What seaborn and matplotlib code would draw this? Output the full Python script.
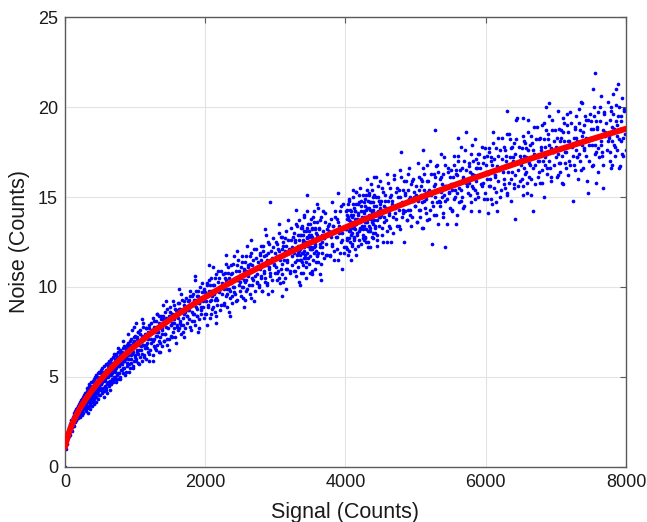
import numpy as np
import pandas as pd
from matplotlib import pyplot as plt
import seaborn as sns

# scatter points (signal, noise)
signal = [
    0, 5, 8, 12, 15, 20, 22, 28, 30, 35, 38, 42, 45, 50, 55, 58, 62, 65, 70, 72, 78, 80, 85, 88, 92, 95, 98,
    102, 105, 110, 112, 118, 120, 125, 128, 130, 135, 138, 140, 145, 148, 150, 155, 158, 160, 165, 168, 170, 175, 178, 180, 185, 188, 190, 195, 198,
    202, 205, 210, 212, 215, 220, 222, 228, 230, 235, 238, 240, 245, 248, 250, 255, 258, 260, 265, 268, 270, 275, 278, 280, 285, 288, 290, 295, 298, 300,
    302, 305, 308, 312, 315, 318, 322, 325, 328, 332, 335, 338, 342, 345, 348, 352, 355, 358, 362, 365, 368, 372, 375, 378, 382, 385, 388, 392, 395, 398,
    402, 405, 408, 412, 415, 418, 422, 425, 428, 432, 435, 438, 442, 445, 448, 452, 455, 458, 462, 465, 468, 472, 475, 478, 482, 485, 488, 492, 495, 498,
    502, 506, 510, 514, 518, 522, 526, 530, 534, 538, 542, 546, 550, 554, 558, 562, 566, 570, 574, 578, 582, 586, 590, 594, 598,
    602, 606, 610, 614, 618, 622, 626, 630, 634, 638, 642, 646, 650, 654, 658, 662, 666, 670, 674, 678, 682, 686, 690, 694, 698,
    702, 706, 710, 714, 718, 722, 726, 730, 734, 738, 742, 746, 750, 754, 758, 762, 766, 770, 774, 778, 782, 786, 790, 794, 798,
    804, 808, 814, 818, 824, 828, 834, 838, 844, 848, 854, 858, 864, 868, 874, 878, 884, 888, 894, 898,
    904, 908, 914, 918, 924, 928, 934, 938, 944, 948, 954, 958, 964, 968, 974, 978, 984, 988, 994, 998, 990, 1010,
    1005, 1012, 1020, 1028, 1035, 1042, 1050, 1058, 1065, 1072, 1080, 1088, 1095, 1102, 1110, 1118, 1125, 1132, 1140, 1148, 1155, 1162, 1170, 1178, 1185, 1192, 1198,
    1205, 1214, 1222, 1230, 1240, 1248, 1258, 1266, 1275, 1284, 1292, 1300, 1310, 1318, 1326, 1335, 1344, 1352, 1360, 1370, 1378, 1388, 1396,
    1405, 1414, 1424, 1432, 1442, 1450, 1460, 1468, 1478, 1486, 1496, 1505, 1514, 1524, 1532, 1542, 1550, 1560, 1570, 1580, 1590,
    1605, 1615, 1626, 1636, 1646, 1655, 1666, 1676, 1686, 1695, 1706, 1716, 1726, 1736, 1746, 1756, 1766, 1776, 1788,
    1805, 1815, 1826, 1836, 1846, 1856, 1866, 1876, 1886, 1896, 1906, 1916, 1926, 1936, 1946, 1956, 1966, 1976, 1988,
    2005, 2015, 2028, 2040, 2052, 2064, 2076, 2088, 2100, 2112, 2124, 2136, 2148, 2160, 2172, 2184, 2196, 2208, 2220, 2232, 2244,
    2255, 2266, 2278, 2290, 2302, 2314, 2326, 2338, 2350, 2362, 2374, 2386, 2398, 2410, 2422, 2434, 2446, 2458, 2470, 2482, 2494,
    2505, 2516, 2528, 2540, 2552, 2564, 2576, 2588, 2600, 2612, 2624, 2636, 2648, 2660, 2672, 2684, 2696, 2708, 2720, 2732, 2744,
    2755, 2766, 2778, 2790, 2802, 2814, 2826, 2838, 2850, 2862, 2874, 2886, 2898, 2910, 2922, 2924, 2934, 2946, 2958, 2970, 2982, 2994,
    3005, 3016, 3028, 3040, 3052, 3064, 3076, 3088, 3100, 3112, 3124, 3136, 3148, 3160, 3172, 3184, 3196, 3208, 3220, 3232, 3244, 3100,
    3255, 3262, 3270, 3278, 3286, 3294, 3302, 3310, 3318, 3326, 3334, 3342, 3350, 3358, 3366, 3374, 3382, 3390, 3398, 3406,
    3414, 3422, 3430, 3438, 3446, 3450, 3454, 3462, 3470, 3478, 3486, 3494, 3502, 3510, 3518, 3526, 3534, 3542, 3550, 3558,
    3566, 3574, 3582, 3590, 3598, 3606, 3614, 3622, 3630, 3640, 3650, 3660, 3670, 3680, 3690, 3700, 3712, 3724, 3736, 3748,
    3760, 3775, 3790, 3805, 3820, 3835, 3850, 3865, 3880, 3895, 3910, 3925, 3940, 3955, 3970, 3985,
    4005, 4012, 4020, 4028, 4036, 4044, 4052, 4060, 4068, 4076, 4084, 4092, 4100, 4108, 4116, 4124, 4132, 4140, 4148, 4156,
    4164, 4172, 4180, 4188, 4196, 4204, 4212, 4220, 4228, 4236, 4244, 4252, 4260, 4268, 4276, 4284, 4292, 4300, 4308, 4316,
    4324, 4332, 4340, 4348, 4356, 4364, 4372, 4380, 4388, 4396, 4404, 4412, 4420, 4428, 4436, 4444, 4452, 4460, 4468, 4476,
    4484, 4492, 4498,
    4510, 4525, 4540, 4555, 4570, 4585, 4600, 4615, 4630, 4645, 4660, 4675, 4690, 4705, 4720, 4735, 4750, 4765, 4780, 4793,
    4810, 4825, 4840, 4855, 4870, 4885, 4900, 4915, 4930, 4945, 4960, 4975, 4990,
    5008, 5025, 5042, 5058, 5075, 5092, 5108, 5125, 5142, 5158, 5175, 5192, 5208, 5225, 5235, 5242, 5258, 5275, 5280, 5292,
    5308, 5325, 5342, 5358, 5375, 5392, 5408, 5420, 5425, 5442, 5458, 5475, 5492,
    5508, 5525, 5542, 5558, 5575, 5592, 5608, 5625, 5642, 5658, 5675, 5692, 5708, 5720, 5725, 5742, 5758, 5775, 5792, 5808,
    5825, 5842, 5858, 5875, 5892, 5908, 5925, 5942, 5958, 5975, 5992,
    6010, 6025, 6042, 6058, 6075, 6092, 6108, 6125, 6142, 6163, 6175, 6192, 6208, 6225, 6242, 6258, 6275, 6292, 6308, 6325,
    6342, 6358, 6375, 6392, 6408, 6419, 6432, 6448, 6465, 6482,
    6508, 6533, 6525, 6542, 6558, 6575, 6592, 6608, 6625, 6642, 6658, 6676, 6692, 6708, 6725, 6742, 6758, 6775, 6792, 6808,
    6825, 6842, 6862, 6875, 6892, 6908, 6925, 6942, 6958, 6975, 6992,
    7010, 7025, 7042, 7058, 7075, 7092, 7108, 7125, 7142, 7158, 7175, 7192, 7208, 7225, 7247, 7258, 7275, 7292, 7308, 7325,
    7342, 7358, 7375, 7392, 7408, 7425, 7442, 7461, 7475, 7492,
    7508, 7525, 7532, 7545, 7560, 7575, 7592, 7608, 7625, 7642, 7658, 7675, 7690, 7708, 7725, 7742, 7758, 7775, 7790, 7803,
    7817, 7830, 7845, 7860, 7875, 7889, 7900, 7917, 7930, 7945, 7960, 7975, 7990,
]
noise = [
    0.0, 1.2, 1.0, 1.4, 1.3, 1.6, 1.3, 1.7, 1.5, 1.9, 1.6, 1.8, 2.0, 1.7, 2.1, 1.9, 2.2, 1.8, 2.3, 2.0, 2.4, 2.1, 2.5, 2.2, 2.6, 2.3, 2.0,
    2.5, 2.2, 2.7, 2.4, 2.8, 2.5, 2.9, 2.6, 2.3, 3.0, 2.7, 2.5, 3.1, 2.8, 2.6, 3.2, 2.9, 2.6, 3.0, 3.3, 2.8, 3.1, 2.7, 3.4, 3.0, 3.2, 2.8, 3.5, 3.1,
    3.3, 2.9, 3.5, 3.1, 2.8, 3.6, 3.2, 3.0, 3.7, 3.4, 3.1, 2.9, 3.8, 3.5, 3.2, 3.9, 3.6, 3.0, 3.4, 4.0, 3.7, 3.2, 3.5, 4.1, 3.8, 3.3, 3.6, 4.0, 3.4, 3.1,
    3.9, 3.5, 4.2, 3.7, 4.4, 3.3, 4.0, 3.6, 4.3, 3.8, 4.5, 3.4, 4.1, 3.7, 4.6, 3.9, 4.2, 3.5, 4.4, 4.0, 3.6, 4.7, 4.1, 3.8, 4.5, 3.9, 4.3, 3.6, 4.8, 4.0,
    4.4, 3.9, 4.7, 4.1, 4.9, 3.8, 4.5, 4.2, 5.0, 4.0, 4.6, 4.3, 5.1, 3.9, 4.7, 4.4, 5.0, 4.1, 4.8, 4.5, 5.2, 4.2, 4.9, 4.0, 4.6, 5.3, 4.3, 5.0, 4.7, 4.4,
    4.9, 4.3, 5.2, 4.6, 5.4, 4.1, 5.0, 4.7, 5.5, 4.4, 5.1, 4.8, 4.2, 5.3, 4.9, 5.6, 4.5, 5.2, 4.8, 5.7, 4.3, 5.0, 5.4, 4.6, 5.1,
    5.3, 4.7, 5.6, 5.0, 5.8, 4.5, 5.4, 5.1, 5.9, 4.8, 5.5, 5.2, 4.6, 5.7, 5.3, 6.0, 4.9, 5.6, 5.2, 6.1, 4.7, 5.4, 5.8, 5.0, 5.5,
    5.7, 5.0, 6.0, 5.3, 6.2, 4.9, 5.8, 5.5, 6.3, 5.1, 5.9, 5.6, 4.9, 6.1, 5.7, 6.4, 5.2, 6.0, 5.6, 6.5, 5.0, 5.8, 6.2, 5.4, 5.9,
    6.1, 5.4, 6.4, 5.7, 6.6, 5.2, 6.2, 5.9, 6.7, 5.5, 6.3, 6.0, 5.3, 6.5, 6.1, 6.8, 5.6, 6.4, 6.0, 6.9,
    6.4, 5.7, 6.7, 6.0, 7.0, 5.5, 6.5, 6.2, 7.1, 5.8, 6.6, 6.3, 5.6, 6.9, 6.4, 7.2, 5.9, 6.7, 6.2, 7.3, 7.8, 8.0,
    6.8, 6.0, 7.2, 6.4, 7.5, 5.8, 6.9, 6.5, 7.6, 6.1, 7.0, 6.7, 5.9, 7.3, 6.8, 7.8, 6.2, 7.1, 6.6, 7.7, 6.0, 7.2, 6.9, 6.4, 7.5, 6.3, 7.9,
    7.4, 6.5, 8.0, 6.9, 7.6, 6.2, 8.3, 7.1, 7.8, 6.6, 8.1, 7.3, 6.8, 8.5, 7.5, 6.4, 8.0, 7.2, 6.9, 8.4, 7.6, 6.7, 8.2,
    8.0, 7.0, 8.6, 7.4, 8.3, 6.8, 8.8, 7.7, 8.2, 7.1, 8.9, 7.9, 7.3, 8.5, 8.0, 7.5, 9.0, 8.2, 7.2, 8.7, 7.8,
    8.5, 7.6, 9.1, 8.0, 8.8, 7.4, 9.3, 8.3, 7.9, 9.0, 8.6, 7.7, 9.4, 8.4, 8.0, 9.2, 8.7, 7.8, 9.5,
    9.0, 8.1, 9.6, 8.5, 9.3, 7.9, 9.8, 8.8, 8.4, 9.5, 9.1, 8.2, 10.0, 8.9, 8.5, 9.7, 9.2, 8.3, 9.9,
    9.5, 8.5, 10.2, 9.0, 9.8, 8.3, 10.5, 9.3, 8.8, 10.1, 9.6, 8.6, 10.7, 9.4, 9.0, 10.3, 9.8, 8.7, 10.9, 9.6, 10.0,
    10.1, 9.0, 10.8, 9.5, 10.4, 8.9, 11.1, 9.9, 9.4, 10.7, 10.2, 9.1, 11.3, 10.0, 9.6, 10.9, 10.4, 9.3, 11.5, 10.1, 9.8,
    10.6, 9.5, 11.4, 10.0, 11.0, 9.3, 11.7, 10.4, 9.9, 11.2, 10.8, 9.6, 11.9, 10.5, 10.1, 11.5, 11.0, 9.8, 12.1, 10.7, 10.3,
    11.1, 10.0, 11.9, 10.5, 11.5, 9.8, 12.3, 10.9, 10.3, 11.8, 11.3, 10.1, 12.5, 11.0, 10.6, 14.7, 12.0, 11.6, 10.4, 12.7, 11.2, 10.8,
    11.6, 10.4, 12.4, 10.9, 12.0, 10.2, 12.8, 11.3, 10.7, 12.3, 11.8, 10.5, 13.1, 11.5, 11.0, 12.6, 12.1, 10.8, 13.3, 11.7, 11.2, 9.5,
    12.1, 10.9, 13.0, 11.4, 12.6, 10.6, 13.4, 11.8, 12.3, 11.1, 13.7, 12.0, 11.5, 12.9, 10.8, 13.3, 11.9, 12.5, 11.2, 14.0,
    12.2, 11.6, 13.1, 10.5, 12.7, 15.1, 11.9, 13.5, 12.3, 11.3, 12.9, 11.7, 13.8, 12.1, 10.9, 13.2, 12.6, 11.5, 14.2, 12.4,
    11.0, 13.0, 12.0, 11.8, 13.6, 12.8, 11.4, 13.3, 12.2, 10.7, 13.9, 12.5, 11.9, 13.1, 12.7, 11.6, 14.1, 12.4, 11.8, 13.4,
    12.9, 11.7, 13.8, 12.3, 13.4, 11.5, 14.2, 12.8, 12.1, 13.6, 13.0, 11.9, 14.5, 12.6, 13.2, 12.2,
    13.4, 12.2, 14.3, 12.7, 13.9, 12.0, 14.8, 13.1, 12.5, 14.0, 13.6, 12.3, 15.0, 13.3, 12.8, 14.4, 13.8, 12.1, 15.3, 13.5,
    13.0, 14.6, 14.1, 12.6, 13.7, 15.5, 13.2, 12.4, 14.8, 13.9, 12.9, 15.1, 14.2, 13.4, 12.7, 14.9, 13.6, 16.0, 14.4, 13.1,
    12.5, 15.2, 14.0, 13.3, 14.7, 13.8, 12.8, 15.4, 14.3, 13.5, 16.1, 14.1, 13.0, 15.0, 14.5, 13.7, 12.6, 15.6, 14.2, 13.4,
    14.8, 15.9, 13.9,
    14.2, 12.9, 15.3, 13.6, 14.8, 12.5, 15.8, 14.0, 13.3, 15.1, 14.6, 13.0, 16.2, 14.4, 13.8, 15.5, 15.0, 13.4, 16.5, 17.5,
    14.7, 14.1, 15.9, 15.2, 13.7, 16.3, 14.9, 14.3, 15.7, 13.9, 16.0, 15.0, 14.5,
    15.0, 13.6, 16.1, 14.3, 15.6, 13.3, 16.6, 14.8, 14.1, 15.9, 15.3, 13.8, 17.0, 15.1, 12.4, 14.5, 16.3, 15.7, 18.7, 14.0,
    16.8, 15.4, 14.7, 16.1, 15.0, 13.9, 17.2, 12.2, 15.6, 14.9, 16.4, 15.2, 14.4,
    15.7, 14.3, 16.8, 15.0, 16.3, 14.0, 17.3, 15.5, 14.8, 16.6, 16.0, 14.5, 17.6, 18.6, 15.8, 15.2, 16.9, 16.4, 14.7, 17.9,
    16.1, 15.4, 17.1, 16.6, 15.0, 17.4, 16.2, 15.6, 16.9, 14.9, 17.7,
    16.4, 14.9, 17.5, 15.6, 17.0, 14.6, 18.0, 16.2, 15.3, 14.2, 17.3, 16.6, 15.0, 18.3, 16.4, 15.7, 17.6, 17.0, 15.2, 18.5,
    16.8, 16.0, 17.8, 17.2, 15.5, 13.8, 18.2, 19.4, 16.5, 15.9,
    17.1, 19.4, 15.6, 18.1, 16.3, 17.7, 15.2, 18.6, 16.8, 16.0, 18.0, 14.2, 17.4, 15.7, 18.9, 17.0, 16.4, 18.3, 17.6, 15.8,
    19.1, 17.2, 20.0, 16.6, 18.5, 17.9, 16.1, 19.3, 17.5, 16.8, 18.7,
    17.7, 16.2, 18.8, 16.9, 18.3, 15.8, 19.4, 17.5, 16.6, 19.0, 18.1, 17.0, 19.7, 17.8, 14.8, 16.8, 18.9, 18.3, 17.2, 19.9,
    18.0, 16.5, 20.2, 18.6, 17.6, 19.3, 18.2, 15.2, 17.0, 19.6,
    18.3, 16.8, 21.0, 19.5, 21.9, 17.5, 18.9, 16.4, 20.0, 18.1, 17.3, 15.5, 19.6, 18.6, 17.6, 20.3, 18.4, 17.0, 19.8, 16.8,
    20.7, 18.8, 17.8, 20.1, 19.0, 21.3, 18.2, 16.7, 19.5, 17.4, 17.3, 19.9, 18.5,
]

# second pass over the cloud, filling in the denser parts
signal_b = [
    310, 325, 340, 355, 370, 385, 400, 415, 430, 445, 460, 475, 490, 505, 520, 535, 550, 565, 580, 595,
    610, 625, 640, 655, 670, 685, 700, 715, 730, 745, 760, 775, 790, 805, 820, 835, 850, 865, 880, 895,
    910, 925, 940, 955, 970, 985, 1000, 640, 700, 760, 830, 900, 960,
    1003, 1012, 1021, 1027, 1037, 1046, 1052, 1061, 1072, 1079, 1088, 1097, 1106, 1114, 1121, 1132, 1141, 1149, 1158, 1169, 1178, 1191, 1203, 1222, 1239,
    1258, 1266, 1274, 1283, 1292, 1298, 1307, 1316, 1325, 1334, 1342, 1351, 1360, 1367, 1376, 1387, 1396, 1405, 1413, 1424, 1436, 1447, 1461, 1478, 1495,
    1503, 1512, 1521, 1527, 1537, 1546, 1552, 1561, 1572, 1579, 1588, 1597, 1606, 1614, 1621, 1632, 1641, 1649, 1658, 1669, 1678, 1691, 1703, 1722, 1739,
    1758, 1766, 1774, 1783, 1792, 1798, 1807, 1816, 1825, 1834, 1842, 1851, 1860, 1867, 1876, 1887, 1896, 1905, 1913, 1924, 1936, 1947, 1961, 1978, 1995,
    2003, 2012, 2021, 2027, 2037, 2046, 2052, 2061, 2072, 2079, 2088, 2097, 2106, 2114, 2121, 2132, 2141, 2149, 2158, 2169, 2178, 2191, 2203, 2222, 2239,
    2258, 2266, 2274, 2283, 2292, 2298, 2307, 2316, 2325, 2334, 2342, 2351, 2360, 2367, 2376, 2387, 2396, 2405, 2413, 2424, 2436, 2447, 2461, 2478, 2495,
    2503, 2512, 2521, 2527, 2537, 2546, 2552, 2561, 2572, 2579, 2588, 2597, 2606, 2614, 2621, 2632, 2641, 2649, 2658, 2669, 2678, 2691, 2703, 2722, 2739,
    2758, 2766, 2774, 2783, 2792, 2798, 2807, 2816, 2825, 2834, 2842, 2851, 2860, 2867, 2876, 2887, 2896, 2905, 2913, 2924, 2936, 2947, 2961, 2978, 2995,
    3003, 3012, 3021, 3027, 3037, 3046, 3052, 3061, 3072, 3079, 3088, 3097, 3106, 3114, 3121, 3132, 3141, 3149, 3158, 3169, 3178, 3191, 3203, 3222, 3239,
    3258, 3266, 3274, 3283, 3292, 3298, 3307, 3316, 3325, 3334, 3342, 3351, 3360, 3367, 3376, 3387, 3396, 3405, 3413, 3424, 3436, 3447, 3461, 3478, 3495,
    3353, 3362, 3371, 3377, 3387, 3396, 3402, 3411, 3422, 3429, 3438, 3447, 3456, 3464, 3471, 3482, 3491, 3499, 3508, 3519, 3528, 3541, 3553, 3572, 3589,
    3503, 3512, 3521, 3527, 3537, 3546, 3552, 3561, 3572, 3579, 3588, 3597, 3606, 3614, 3621, 3632, 3641, 3649, 3658, 3669, 3678, 3691, 3703, 3722, 3739,
    3758, 3770, 3781, 3793, 3805, 3814, 3826, 3838, 3849, 3861, 3872, 3884, 3895, 3907, 3918, 3930, 3942, 3955, 3968, 3985,
    4003, 4012, 4021, 4027, 4037, 4046, 4052, 4061, 4072, 4079, 4088, 4097, 4106, 4114, 4121, 4132, 4141, 4149, 4158, 4169, 4178, 4191, 4203, 4222, 4239,
    4008, 4016, 4024, 4033, 4042, 4048, 4057, 4066, 4075, 4084, 4092, 4101, 4110, 4117, 4126, 4137, 4146, 4155, 4163, 4174, 4186, 4197, 4211, 4228, 4245,
    4258, 4266, 4274, 4283, 4292, 4298, 4307, 4316, 4325, 4334, 4342, 4351, 4360, 4367, 4376, 4387, 4396, 4405, 4413, 4424, 4436, 4447, 4461, 4478, 4495,
    4253, 4262, 4271, 4277, 4287, 4296, 4302, 4311, 4322, 4329, 4338, 4347, 4356, 4364, 4371, 4382, 4391, 4399, 4408, 4419, 4428, 4441, 4453, 4472, 4489,
    4503, 4512, 4521, 4527, 4537, 4546, 4552, 4561, 4572, 4579, 4588, 4597, 4606, 4614, 4621, 4632, 4641, 4649, 4658, 4669, 4678, 4691, 4703, 4722, 4739,
    4758, 4766, 4774, 4783, 4792, 4798, 4807, 4816, 4825, 4834, 4842, 4851, 4860, 4867, 4876, 4887, 4896, 4905, 4913, 4924, 4936, 4947, 4961, 4978, 4995,
    5003, 5012, 5021, 5027, 5037, 5046, 5052, 5061, 5072, 5079, 5088, 5097, 5106, 5114, 5121, 5132, 5141, 5149, 5158, 5169, 5178, 5191, 5203, 5222, 5239,
    5258, 5266, 5274, 5283, 5292, 5298, 5307, 5316, 5325, 5334, 5342, 5351, 5360, 5367, 5376, 5387, 5396, 5405, 5413, 5424, 5436, 5447, 5461, 5478, 5495,
    5503, 5512, 5521, 5527, 5537, 5546, 5552, 5561, 5572, 5579, 5588, 5597, 5606, 5614, 5621, 5632, 5641, 5649, 5658, 5669, 5678, 5691, 5703, 5722, 5739,
    5758, 5766, 5774, 5783, 5792, 5798, 5807, 5816, 5825, 5834, 5842, 5851, 5860, 5867, 5876, 5887, 5896, 5905, 5913, 5924, 5936, 5947, 5961, 5978, 5995,
    6003, 6012, 6021, 6027, 6037, 6046, 6052, 6061, 6072, 6079, 6088, 6097, 6106, 6114, 6121, 6132, 6141, 6149, 6158, 6169, 6178, 6191, 6203, 6222, 6239,
    6258, 6266, 6274, 6283, 6292, 6298, 6307, 6316, 6325, 6334, 6342, 6351, 6360, 6367, 6376, 6387, 6396, 6405, 6413, 6424, 6436, 6447, 6461, 6478, 6495,
    6503, 6512, 6521, 6527, 6537, 6546, 6552, 6561, 6572, 6579, 6588, 6597, 6606, 6614, 6621, 6632, 6641, 6649, 6658, 6669, 6678, 6691, 6703, 6722, 6739,
    6758, 6766, 6774, 6783, 6792, 6798, 6807, 6816, 6825, 6834, 6842, 6851, 6860, 6867, 6876, 6887, 6896, 6905, 6913, 6924, 6936, 6947, 6961, 6978, 6995,
    7003, 7012, 7021, 7027, 7037, 7046, 7052, 7061, 7072, 7079, 7088, 7097, 7106, 7114, 7121, 7132, 7141, 7149, 7158, 7169, 7178, 7191, 7203, 7222, 7239,
    7258, 7266, 7274, 7283, 7292, 7298, 7307, 7316, 7325, 7334, 7342, 7351, 7360, 7367, 7376, 7387, 7396, 7405, 7413, 7424, 7436, 7447, 7461, 7478, 7495,
    7503, 7512, 7521, 7527, 7537, 7546, 7552, 7561, 7572, 7579, 7588, 7597, 7606, 7614, 7621, 7632, 7641, 7649, 7658, 7669, 7678, 7691, 7703, 7722, 7739,
    7758, 7766, 7774, 7783, 7792, 7798, 7807, 7816, 7825, 7834, 7842, 7851, 7860, 7867, 7876, 7887, 7896, 7905, 7913, 7924, 7936, 7947, 7961, 7978, 7995,
]
noise_b = [
    3.3, 3.0, 3.6, 3.2, 3.9, 3.4, 3.7, 3.5, 4.4, 3.6, 4.1, 3.8, 4.5, 4.0, 4.6, 4.2, 3.9, 4.9, 4.4, 4.1,
    5.4, 4.6, 4.3, 5.1, 4.8, 5.8, 4.9, 5.4, 4.7, 6.1, 5.2, 5.6, 4.9, 6.4, 5.5, 5.9, 5.1, 6.6, 5.8, 6.2,
    5.3, 6.8, 6.0, 6.5, 5.5, 7.0, 6.1, 5.9, 6.3, 6.6, 7.0, 7.4, 7.6,
    6.8, 5.9, 7.1, 6.5, 7.5, 6.3, 6.8, 5.7, 7.4, 6.5, 7.1, 6.3, 8.0, 6.8, 7.1, 6.1, 7.4, 6.8, 7.7, 6.6, 7.1, 5.9, 7.7, 7.1, 7.6,
    7.0, 8.1, 6.7, 7.5, 7.8, 6.5, 8.5, 7.3, 7.5, 7.0, 8.4, 7.8, 6.4, 8.2, 7.4, 7.7, 8.4, 7.0, 8.1, 7.4, 9.2, 7.8, 7.1, 8.4, 8.2,
    8.6, 7.9, 7.2, 8.5, 8.2, 9.2, 7.7, 8.0, 8.8, 6.9, 8.5, 7.9, 9.1, 8.3, 7.7, 8.8, 8.1, 9.6, 7.9, 8.6, 7.5, 9.2, 8.5, 8.9, 8.4,
    8.7, 9.3, 8.2, 9.8, 7.6, 9.0, 8.6, 9.5, 8.5, 9.0, 8.1, 10.4, 9.3, 8.9, 8.4, 9.5, 9.8, 7.7, 9.1, 9.4, 8.7, 10.2, 8.9, 9.8, 8.5,
    9.7, 9.2, 10.1, 7.9, 9.5, 8.9, 10.4, 9.2, 10.1, 8.5, 9.8, 9.5, 11.1, 8.9, 10.1, 9.3, 10.5, 8.4, 9.8, 9.3, 10.9, 9.7, 10.5, 9.0, 10.2,
    10.7, 9.9, 9.1, 10.5, 10.2, 11.3, 9.6, 9.9, 10.8, 8.6, 10.5, 9.8, 11.2, 10.3, 9.5, 10.8, 10.0, 11.7, 9.7, 10.5, 9.2, 11.2, 10.4, 10.9, 10.3,
    10.5, 11.1, 10.0, 11.7, 9.4, 10.9, 10.4, 11.4, 10.3, 10.9, 9.8, 12.3, 11.1, 10.6, 10.1, 11.3, 11.7, 9.4, 10.9, 11.2, 10.4, 12.1, 10.6, 11.6, 10.2,
    11.4, 10.1, 11.8, 11.0, 12.3, 10.6, 11.3, 9.8, 12.0, 10.8, 11.7, 10.5, 12.9, 11.2, 11.5, 10.2, 11.9, 11.1, 12.4, 10.8, 11.4, 9.8, 12.2, 11.3, 11.9,
    11.1, 12.5, 10.8, 11.7, 12.1, 10.5, 13.0, 11.5, 11.7, 11.0, 12.8, 12.1, 10.3, 12.5, 11.5, 12.0, 12.7, 11.0, 12.3, 11.4, 13.7, 11.9, 10.9, 12.6, 12.2,
    12.8, 11.9, 10.9, 12.5, 12.1, 13.5, 11.5, 11.9, 12.9, 10.3, 12.6, 11.8, 13.3, 12.2, 11.4, 12.9, 11.9, 13.9, 11.6, 12.5, 11.1, 13.3, 12.4, 12.8, 12.1,
    12.1, 12.9, 11.5, 13.4, 10.8, 12.6, 12.0, 13.1, 11.8, 12.5, 11.4, 14.2, 12.8, 12.3, 11.6, 13.1, 13.5, 10.8, 12.5, 12.8, 12.1, 13.9, 12.2, 13.3, 11.7,
    12.9, 12.2, 13.3, 10.7, 12.5, 11.9, 13.6, 12.3, 13.2, 11.4, 12.9, 12.6, 14.4, 11.9, 13.2, 12.4, 13.7, 11.3, 12.9, 12.2, 14.2, 12.7, 13.6, 11.8, 13.2,
    13.1, 13.5, 11.8, 12.8, 14.7, 12.4, 13.4, 12.0, 13.9, 13.1, 12.8, 13.8, 11.5, 13.4, 14.2, 12.5, 13.2, 13.0, 14.6, 11.9,
    14.2, 13.2, 12.1, 13.8, 13.4, 14.9, 12.7, 13.2, 14.2, 11.5, 13.9, 13.0, 14.6, 13.5, 12.6, 14.2, 13.2, 15.3, 12.9, 13.8, 12.3, 14.7, 13.6, 14.2, 13.4,
    13.2, 14.0, 12.6, 14.6, 11.8, 13.7, 13.1, 14.3, 12.9, 13.6, 12.4, 15.4, 14.0, 13.4, 12.7, 14.2, 14.6, 11.8, 13.6, 14.0, 13.1, 15.1, 13.3, 14.5, 12.7,
    14.1, 12.6, 14.5, 13.6, 15.1, 13.2, 13.9, 12.2, 14.8, 13.4, 14.4, 13.1, 15.7, 13.8, 14.2, 12.7, 14.7, 13.7, 15.1, 13.3, 14.1, 12.3, 15.0, 13.9, 14.6,
    13.2, 14.7, 12.8, 13.9, 14.3, 12.5, 15.4, 13.6, 13.8, 13.1, 15.1, 14.3, 12.2, 14.7, 13.6, 14.1, 15.0, 13.0, 14.5, 13.4, 16.1, 14.0, 12.9, 14.8, 14.4,
    14.0, 14.8, 13.3, 15.5, 12.5, 14.5, 13.9, 15.1, 13.7, 14.4, 13.1, 16.3, 14.8, 14.1, 13.4, 15.0, 15.5, 12.5, 14.4, 14.8, 13.9, 16.0, 14.1, 15.3, 13.4,
    15.4, 14.3, 13.2, 15.0, 14.6, 16.1, 13.9, 14.3, 15.4, 12.5, 15.1, 14.2, 15.9, 14.7, 13.7, 15.4, 14.3, 16.6, 14.0, 15.0, 13.4, 15.9, 14.8, 15.3, 14.5,
    15.1, 15.6, 13.6, 14.8, 16.9, 14.3, 15.4, 13.9, 16.0, 15.1, 14.7, 15.9, 13.3, 15.4, 16.3, 14.4, 15.2, 14.9, 16.8, 13.7, 15.9, 15.4, 14.3, 16.3, 14.7,
    15.6, 14.0, 16.1, 15.0, 16.7, 14.7, 15.4, 13.5, 16.4, 14.8, 16.0, 14.5, 17.4, 15.3, 15.7, 14.1, 16.3, 15.1, 16.8, 14.8, 15.6, 13.5, 16.6, 15.3, 16.1,
    16.5, 15.4, 14.2, 16.1, 15.7, 17.3, 14.9, 15.4, 16.5, 13.5, 16.2, 15.2, 17.0, 15.8, 14.7, 16.5, 15.4, 17.8, 15.0, 16.1, 14.4, 17.0, 15.9, 16.5, 15.6,
    15.8, 16.7, 15.1, 17.4, 14.2, 16.3, 15.6, 17.0, 15.5, 16.2, 14.9, 18.2, 16.6, 15.9, 15.2, 16.9, 17.4, 14.2, 16.2, 16.6, 15.7, 17.8, 15.8, 17.2, 15.2,
    16.8, 16.0, 17.3, 14.1, 16.3, 15.6, 17.7, 16.0, 17.2, 14.9, 16.8, 16.4, 18.6, 15.5, 17.1, 16.1, 17.7, 14.7, 16.7, 15.9, 18.3, 16.5, 17.6, 15.4, 17.1,
    16.0, 17.8, 15.5, 16.8, 17.3, 15.1, 18.5, 16.4, 16.7, 15.8, 18.2, 17.2, 14.8, 17.7, 16.4, 17.0, 18.0, 15.7, 17.4, 16.2, 19.3, 16.9, 15.6, 17.8, 17.3,
    16.8, 17.7, 16.0, 18.4, 15.1, 17.3, 16.6, 18.0, 16.4, 17.2, 15.8, 19.3, 17.6, 16.9, 16.1, 17.9, 18.4, 15.1, 17.2, 17.6, 16.6, 18.9, 16.8, 18.2, 16.1,
    18.2, 17.0, 15.8, 17.8, 17.3, 19.0, 16.5, 17.0, 18.2, 15.0, 17.8, 16.8, 18.7, 17.4, 16.3, 18.2, 17.0, 19.5, 16.6, 17.7, 15.9, 18.7, 17.5, 18.1, 17.2,
    17.8, 18.3, 16.1, 17.4, 19.8, 16.9, 18.1, 16.4, 18.7, 17.7, 17.3, 18.6, 15.7, 18.1, 19.1, 16.9, 17.8, 17.5, 19.6, 16.2, 18.6, 18.1, 16.8, 19.1, 17.3,
    18.3, 16.5, 18.8, 17.6, 19.5, 17.2, 18.1, 16.0, 19.1, 17.4, 18.7, 17.0, 20.3, 17.9, 18.4, 16.6, 19.0, 17.7, 19.5, 17.3, 18.3, 15.9, 19.3, 17.9, 18.8,
    19.2, 17.9, 16.7, 18.8, 18.3, 20.0, 17.4, 17.9, 19.2, 15.8, 18.8, 17.7, 19.7, 18.4, 17.2, 19.2, 17.9, 20.6, 17.5, 18.7, 16.8, 19.7, 18.4, 19.1, 18.1,
    18.3, 19.3, 17.5, 20.0, 16.6, 18.9, 18.1, 19.6, 17.9, 18.8, 17.3, 21.0, 19.2, 18.4, 17.6, 19.5, 20.0, 16.6, 18.8, 19.2, 18.1, 20.5, 18.3, 19.8, 17.6,
]

# loose points on the edges of the cloud
signal_c = [1100, 1250, 1400, 1480, 1620, 1700, 1850, 1900, 2050, 2150, 2300, 2350, 2450, 2550, 2650,
            2700, 2850, 2900, 3050, 3150, 3300, 3350, 3600, 3650, 3900, 3950, 5100, 5600, 6300, 6900]
noise_c = [8.2, 5.9, 9.0, 6.5, 9.9, 7.2, 10.6, 7.5, 11.2, 8.0, 11.8, 8.4, 12.0, 8.9, 12.6,
           9.2, 13.2, 9.6, 13.5, 9.9, 14.3, 10.1, 14.6, 10.4, 15.2, 11.0, 17.6, 18.3, 19.8, 20.2]

# fitted curve
fit_signal = [0, 25, 50, 100, 150, 200, 250, 300, 350, 400, 450, 500, 600, 700, 800, 900, 1000,
              1200, 1400, 1600, 1800, 2000, 2250, 2500, 2750, 3000, 3250, 3500, 3750, 4000,
              4250, 4500, 4750, 5000, 5250, 5500, 5750, 6000, 6250, 6500, 6750, 7000,
              7250, 7500, 7750, 8000]
fit_noise = [1.10, 1.52, 1.84, 2.37, 2.79, 3.16, 3.49, 3.79, 4.07, 4.34, 4.58, 4.82, 5.25, 5.66, 6.03, 6.39, 6.72,
             7.35, 7.92, 8.46, 8.97, 9.44, 10.01, 10.55, 11.05, 11.54, 12.01, 12.46, 12.89, 13.31,
             13.72, 14.11, 14.50, 14.87, 15.24, 15.59, 15.94, 16.28, 16.62, 16.95, 17.27, 17.58,
             17.89, 18.20, 18.50, 18.79]

points = pd.concat([pd.DataFrame({'signal': signal, 'noise': noise}),
                    pd.DataFrame({'signal': signal_b, 'noise': noise_b}),
                    pd.DataFrame({'signal': signal_c, 'noise': noise_c})], ignore_index=True)
fit = pd.DataFrame({'signal': fit_signal, 'noise': fit_noise})

sns.set_style('white')
plt.rcParams['font.family'] = ['Liberation Sans', 'DejaVu Sans']

fig = plt.figure(figsize=(6.47, 5.22), dpi=100)
ax = fig.add_axes([0.1005, 0.1054, 0.867, 0.862])

sns.scatterplot(data=points, x='signal', y='noise', ax=ax, color='#0000ff', s=7, linewidth=0, zorder=2)
sns.lineplot(data=fit, x='signal', y='noise', ax=ax, color='#ff0000', linewidth=4.3, zorder=3)

ax.set_xlim(0, 8000)
ax.set_ylim(0, 25)
ax.set_xticks([0, 2000, 4000, 6000, 8000])
ax.set_yticks([0, 5, 10, 15, 20, 25])
ax.grid(True, color='#e3e3e3', linewidth=0.8)
ax.set_axisbelow(True)
ax.tick_params(direction='in', length=4, width=0.8, color='#5a5a5a', labelsize=13, labelcolor='#1a1a1a',
               top=True, right=True, pad=5)
for sp in ax.spines.values():
    sp.set_color('#5a5a5a')
    sp.set_linewidth(1.0)
ax.set_xlabel('Signal (Counts)', fontsize=15.5, color='#1a1a1a', labelpad=8)
ax.set_ylabel('Noise (Counts)', fontsize=15.5, color='#1a1a1a', labelpad=6)

fig.savefig('out.png', dpi=100)
